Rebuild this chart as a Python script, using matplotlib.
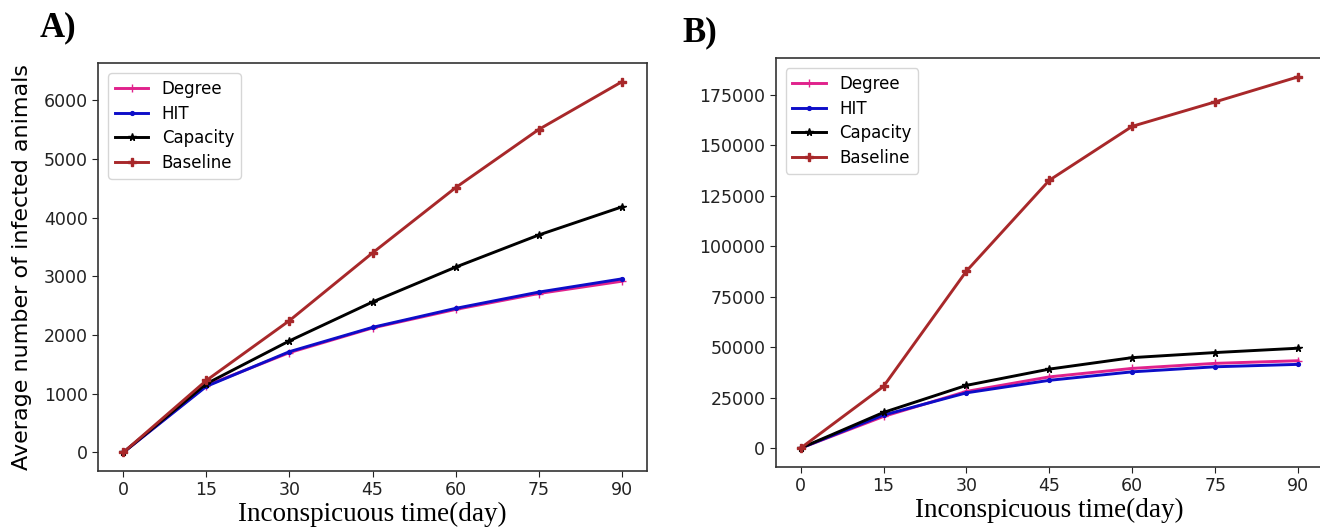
import matplotlib
matplotlib.use("Agg")
import matplotlib.pyplot as plt
from matplotlib.ticker import MultipleLocator

# Inconspicuous time (days)
days = [0, 15, 30, 45, 60, 75, 90]

# Panel A: average number of infected animals
a_degree = [0, 1140, 1700, 2120, 2435, 2706, 2915]
a_hit = [0, 1125, 1716, 2130, 2453, 2730, 2955]
a_capacity = [0, 1170, 1900, 2562, 3155, 3702, 4180]
a_baseline = [0, 1226, 2245, 3397, 4508, 5498, 6310]

# Panel B: average number of infected animals
b_degree = [0, 15700, 28100, 35300, 39500, 42000, 43300]
b_hit = [0, 16400, 27400, 33600, 37800, 40300, 41500]
b_capacity = [0, 17700, 31100, 39150, 44840, 47350, 49500]
b_baseline = [0, 30600, 87700, 132700, 159400, 171500, 183900]

labels = ["Degree", "HIT", "Capacity", "Baseline"]
colors = ["#e0228c", "#0d0dc8", "#000000", "#a8282a"]
markers = ["+", ".", "*", "P"]

fig = plt.figure(figsize=(13.2, 5.3), dpi=100)
axA = fig.add_axes([0.0745, 0.1113, 0.4154, 0.7693])
axB = fig.add_axes([0.5877, 0.1194, 0.4145, 0.7706])

panels = [
    (axA, [a_degree, a_hit, a_capacity, a_baseline], None),
    (axB, [b_degree, b_hit, b_capacity, b_baseline], 25000),
]

for ax, series, ystep in panels:
    for vals, lab, col, mk in zip(series, labels, colors, markers):
        ax.plot(days, vals, color=col, lw=2.1, marker=mk, markersize=5.5,
                label=lab)
    ax.set_xticks(days)
    if ystep:
        ax.yaxis.set_major_locator(MultipleLocator(ystep))
    ax.tick_params(labelsize=12.5, colors="#222222", length=4)
    for sp in ax.spines.values():
        sp.set_color("#333333")
        sp.set_linewidth(1.2)
    ax.set_xlabel("Inconspicuous time(day)", family="Liberation Serif",
                  fontsize=19.5, labelpad=2)
    ax.legend(loc="upper left", fontsize=12, borderaxespad=0.6,
              labelspacing=0.4, edgecolor="#cccccc")

axA.set_ylabel("Average number of infected animals", fontsize=16)
axA.yaxis.set_label_coords(-0.121, 0.5)

fig.text(40 / 1320, 1 - 28 / 530, "A)", family="Liberation Serif",
         weight="bold", fontsize=25, va="center", ha="left")
fig.text(682 / 1320, 1 - 33 / 530, "B)", family="Liberation Serif",
         weight="bold", fontsize=25, va="center", ha="left")

fig.savefig("out.png", dpi=100)
